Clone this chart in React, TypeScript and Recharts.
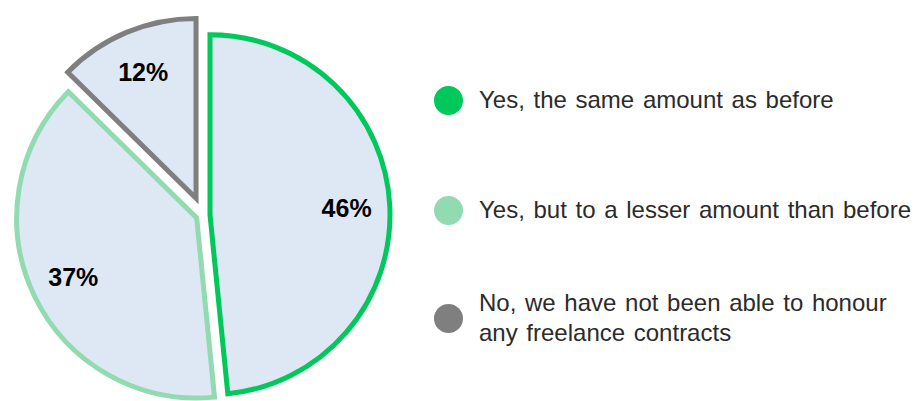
import { PieChart, Pie, Cell, Legend } from "recharts";

const CATEGORIES = [
  "Yes, the same amount as before",
  "Yes, but to a lesser amount than before",
  "No, we have not been able to honour any freelance contracts",
];
const SHARES = [46, 37, 12];

const COLORS = ["#00C85A", "#92DBB1", "#7F7F7F"];
const SLICE_FILL = "#DEE8F5";
const EXPLODE = [7, 7, 18];
const LEGEND_Y = [100, 210, 318];

const CX = 203;
const CY = 215;
const RADIUS = 180;
const FONT = "'Liberation Sans', Arial, sans-serif";

const data = CATEGORIES.map((name, i) => ({ name, value: SHARES[i] }));
const total = SHARES.reduce((a, b) => a + b, 0);

// mid angle of each slice, clockwise from 12 o'clock, in radians
const midAngles = SHARES.map((v, i) => {
  const before = SHARES.slice(0, i).reduce((a, b) => a + b, 0);
  return ((before + v / 2) / total) * Math.PI * 2;
});

const RAD = Math.PI / 180;

function makeLabel(slice: number) {
  return (props: any) => {
    if (props.index !== slice) return null;
    const r = props.outerRadius * 0.76;
    const x = props.cx + r * Math.cos(-props.midAngle * RAD);
    const y = props.cy + r * Math.sin(-props.midAngle * RAD);
    return (
      <text
        x={x}
        y={y}
        textAnchor="middle"
        dominantBaseline="central"
        fontFamily={FONT}
        fontSize={25}
        fontWeight="bold"
        fill="#000"
      >
        {`${props.value}%`}
      </text>
    );
  };
}

function LegendBox() {
  return (
    <div style={{ position: "relative", width: 481, height: 401, fontFamily: FONT }}>
      {CATEGORIES.map((name, i) => (
        <div
          key={name}
          style={{
            position: "absolute",
            left: 0,
            top: LEGEND_Y[i],
            transform: "translateY(-50%)",
            display: "flex",
            alignItems: "center",
          }}
        >
          <span
            style={{
              width: 29,
              height: 29,
              borderRadius: "50%",
              background: COLORS[i],
              marginRight: 16,
              flex: "none",
            }}
          />
          <span
            style={{
              width: 436,
              fontSize: 24,
              lineHeight: "30px",
              wordSpacing: 2,
              color: "#2b2b2b",
            }}
          >
            {name}
          </span>
        </div>
      ))}
    </div>
  );
}

export default function App() {
  return (
    <div style={{ position: "absolute", left: 0, top: 0, width: 915, height: 401, background: "#fff" }}>
      <PieChart width={915} height={401} margin={{ top: 0, right: 0, bottom: 0, left: 0 }}>
        {SHARES.map((_, slice) => (
          <Pie
            key={slice}
            data={data}
            dataKey="value"
            nameKey="name"
            cx={CX + EXPLODE[slice] * Math.sin(midAngles[slice])}
            cy={CY - EXPLODE[slice] * Math.cos(midAngles[slice])}
            outerRadius={RADIUS}
            startAngle={90}
            endAngle={-270}
            isAnimationActive={false}
            label={makeLabel(slice)}
            labelLine={false}
            legendType="none"
          >
            {data.map((_, i) => (
              <Cell
                key={i}
                fill={i === slice ? SLICE_FILL : "none"}
                stroke={i === slice ? COLORS[i] : "none"}
                strokeWidth={5}
              />
            ))}
          </Pie>
        ))}
        <Legend
          content={() => <LegendBox />}
          wrapperStyle={{ position: "absolute", left: 434, top: 0, width: 481, height: 401 }}
        />
      </PieChart>
    </div>
  );
}
